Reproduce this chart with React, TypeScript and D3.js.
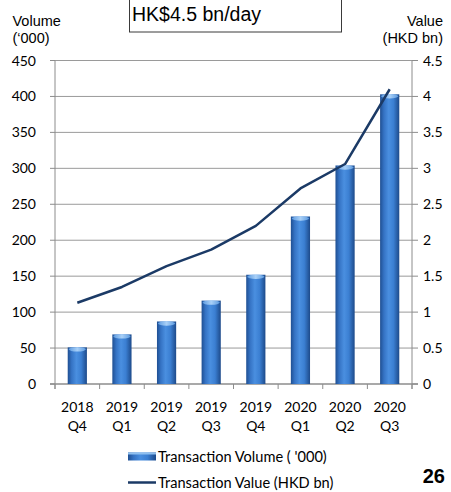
import React from "react";
import * as d3 from "d3";

const years = ["2018", "2019", "2019", "2019", "2019", "2020", "2020", "2020"];
const quarters = ["Q4", "Q1", "Q2", "Q3", "Q4", "Q1", "Q2", "Q3"];
const volume = [51, 69, 87, 116, 152, 233, 304, 403];
const value = [1.13, 1.35, 1.64, 1.87, 2.2, 2.72, 3.06, 4.1];
const leftTicks = [0, 50, 100, 150, 200, 250, 300, 350, 400, 450];
const rightTicks = [0, 0.5, 1, 1.5, 2, 2.5, 3, 3.5, 4, 4.5];
const legendVolume = "Transaction Volume ( '000)";
const legendValue = "Transaction Value (HKD bn)";
const boxText = "HK$4.5 bn/day";
const pageNo = "26";

const W = 451;
const H = 492;
const plotL = 55;
const plotR = 412;
const plotT = 60.5;
const plotB = 384;
const tickFont = "Lato, 'Open Sans', sans-serif";
const arial = "'Liberation Sans', Arial, sans-serif";

export default function App() {
  const idx = volume.map((_, i) => String(i));
  const x = d3.scaleBand<string>().domain(idx).range([plotL, plotR]).paddingInner(0.57).paddingOuter(0.285);
  const yL = d3.scaleLinear().domain([0, 450]).range([plotB, plotT]);
  const yR = d3.scaleLinear().domain([0, 4.5]).range([plotB, plotT]);
  const step = x.step();
  const bw = x.bandwidth();
  const line = d3
    .line<number>()
    .x((_, i) => (x(String(i)) as number) + bw / 2)
    .y((d) => yR(d));

  return (
    <svg width={W} height={H} style={{ position: "absolute", left: 0, top: 0, background: "#fff" }}>
      <defs>
        <linearGradient id="barg" x1="0" x2="1" y1="0" y2="0">
          <stop offset="0%" stopColor="#1f4f92" />
          <stop offset="20%" stopColor="#3573c4" />
          <stop offset="45%" stopColor="#4a8fe0" />
          <stop offset="70%" stopColor="#3b7fd2" />
          <stop offset="100%" stopColor="#1d4a8a" />
        </linearGradient>
        <linearGradient id="capg" x1="0" x2="1" y1="0" y2="0">
          <stop offset="0%" stopColor="#5d9be0" />
          <stop offset="50%" stopColor="#a9d0f7" />
          <stop offset="100%" stopColor="#5d9be0" />
        </linearGradient>
      </defs>

      {/* gridlines */}
      {leftTicks.slice(1).map((t) => (
        <line key={"g" + t} x1={plotL} x2={plotR} y1={yL(t)} y2={yL(t)} stroke="#9a9a9a" strokeWidth={1} />
      ))}

      {/* axes */}
      <line x1={plotL} x2={plotL} y1={plotT} y2={plotB + 5} stroke="#8c8c8c" strokeWidth={1} />
      <line x1={plotR} x2={plotR} y1={plotT} y2={plotB + 5} stroke="#8c8c8c" strokeWidth={1} />
      <line x1={plotL - 5} x2={plotR + 6} y1={plotB} y2={plotB} stroke="#8c8c8c" strokeWidth={1.5} />
      {leftTicks.map((t) => (
        <line key={"lt" + t} x1={plotL - 5} x2={plotL} y1={yL(t)} y2={yL(t)} stroke="#8c8c8c" />
      ))}
      {rightTicks.map((t) => (
        <line key={"rt" + t} x1={plotR} x2={plotR + 6} y1={yR(t)} y2={yR(t)} stroke="#8c8c8c" />
      ))}
      {d3.range(volume.length + 1).map((k) => (
        <line key={"xt" + k} x1={plotL + k * step} x2={plotL + k * step} y1={plotB} y2={plotB + 5} stroke="#8c8c8c" />
      ))}

      {/* bars */}
      {volume.map((v, i) => {
        const bx = x(String(i)) as number;
        const top = yL(v);
        return (
          <g key={"b" + i}>
            <rect x={bx} y={top} width={bw} height={plotB - top} fill="url(#barg)" />
            <ellipse cx={bx + bw / 2} cy={top + 2} rx={bw / 2 - 1} ry={2.2} fill="url(#capg)" />
          </g>
        );
      })}

      {/* line */}
      <path d={line(value) as string} fill="none" stroke="#1b3a66" strokeWidth={2.5} strokeLinejoin="round" />

      {/* left tick labels */}
      {leftTicks.map((t) => (
        <text key={"ll" + t} x={36} y={yL(t) + 5} textAnchor="end" fontFamily={tickFont} fontSize={14} fill="#000">
          {t}
        </text>
      ))}
      {rightTicks.map((t) => (
        <text key={"rl" + t} x={423} y={yR(t) + 5} textAnchor="start" fontFamily={tickFont} fontSize={14} fill="#000">
          {t}
        </text>
      ))}

      {/* x labels */}
      {years.map((yv, i) => {
        const cx = (x(String(i)) as number) + bw / 2;
        return (
          <g key={"xl" + i}>
            <text x={cx} y={411.5} textAnchor="middle" fontFamily={tickFont} fontSize={14}>
              {yv}
            </text>
            <text x={cx} y={430.5} textAnchor="middle" fontFamily={tickFont} fontSize={14}>
              {quarters[i]}
            </text>
          </g>
        );
      })}

      {/* axis titles */}
      <text x={12.5} y={26} fontFamily={arial} fontSize={14.5}>Volume</text>
      <text x={12.5} y={42.5} fontFamily={arial} fontSize={14.5}>(‘000)</text>
      <text x={443} y={26} textAnchor="end" fontFamily={arial} fontSize={14.5}>Value</text>
      <text x={443} y={42.5} textAnchor="end" fontFamily={arial} fontSize={14.5}>(HKD bn)</text>

      {/* top text box */}
      <rect x={129.5} y={-10} width={212} height={42} fill="#fff" stroke="#3a3a3a" strokeWidth={1} />
      <text x={132} y={20.5} fontFamily={arial} fontSize={19.5}>{boxText}</text>

      {/* legend */}
      <rect x={128} y={452.5} width={28} height={8} fill="url(#barg)" />
      <rect x={128} y={452.5} width={28} height={2} fill="#8fc0f0" />
      <text x={158} y={461.5} fontFamily={tickFont} fontSize={14.6}>{legendVolume}</text>
      <line x1={128} x2={156} y1={482.5} y2={482.5} stroke="#1b3a66" strokeWidth={2.5} />
      <text x={158} y={488} fontFamily={tickFont} fontSize={14.6}>{legendValue}</text>

      {/* page number */}
      <text x={445} y={483} textAnchor="end" fontFamily={arial} fontWeight="bold" fontSize={20}>{pageNo}</text>
    </svg>
  );
}
